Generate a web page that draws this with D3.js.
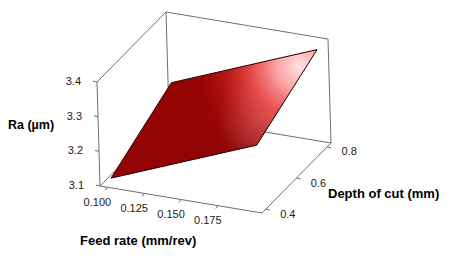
<!DOCTYPE html>
<html><head><meta charset="utf-8">
<script src="https://cdn.jsdelivr.net/npm/d3@7"></script>
<style>html,body{margin:0;padding:0;background:#fff;}svg{display:block;}</style>
</head><body>
<svg id="c" width="450" height="267"></svg>
<script>
// ---- data ----
const feedVals = [0.10, 0.15, 0.20];          // Feed rate (mm/rev)
const depthVals = [0.4, 0.6, 0.8];            // Depth of cut (mm)
const raVals = [                              // Ra (µm), rows = depth, cols = feed
  [3.115, 3.198, 3.281],
  [3.163, 3.246, 3.329],
  [3.211, 3.294, 3.377]
];
const feedTicks = [0.100, 0.125, 0.150, 0.175];
const depthTicks = [0.4, 0.6, 0.8];
const raTicks = [3.1, 3.2, 3.3, 3.4];
const feedDomain = [0.095, 0.205];
const depthDomain = [0.375, 0.825];
const raDomain = [3.1, 3.4];

// ---- projection ----
const svg = d3.select("#c");
const fx = d3.scaleLinear().domain(feedDomain).range([0, 1]);
const fy = d3.scaleLinear().domain(depthDomain).range([0, 1]);
const fz = d3.scaleLinear().domain(raDomain).range([0, 1]);
const O = [100, 186], F = [162, 27], D = [69, -70], Z = [-3, -104];
function P(a, b, c) { // unit coords
  return [O[0] + F[0]*a + D[0]*b + Z[0]*c, O[1] + F[1]*a + D[1]*b + Z[1]*c];
}
function proj(f, d, r) { return P(fx(f), fy(d), fz(r)); }
const line = d3.line();
const boxCol = "#6e6e6e";

// ---- box edges (drawn behind surface) ----
const edges = [
  [[0,0,0],[0,0,1]], [[0,0,1],[0,1,1]], [[0,1,1],[1,1,1]], [[1,1,1],[1,1,0]],
  [[0,1,0],[0,1,1]], [[0,1,0],[1,1,0]], [[0,0,0],[0,1,0]],
  [[0,0,0],[1,0,0]], [[1,0,0],[1,1,0]]
];
svg.append("g").selectAll("path").data(edges).join("path")
  .attr("d", e => line(e.map(p => P(...p))))
  .attr("fill", "none").attr("stroke", boxCol).attr("stroke-width", 1);

// ---- ticks ----
const tg = svg.append("g").attr("font-family", "'Liberation Sans', Arial, sans-serif")
  .attr("font-size", 11).attr("fill", "#1a1a1a");
raTicks.forEach(t => {
  const p = P(0, 0, fz(t));
  tg.append("line").attr("x1", p[0]).attr("y1", p[1]).attr("x2", p[0]-4).attr("y2", p[1]-1)
    .attr("stroke", boxCol);
  tg.append("text").attr("x", p[0]-16).attr("y", p[1]-1).attr("text-anchor", "end")
    .attr("dominant-baseline", "central").text(d3.format(".1f")(t));
});
feedTicks.forEach(t => {
  const p = P(fx(t), 0, 0);
  tg.append("line").attr("x1", p[0]).attr("y1", p[1]).attr("x2", p[0]-2).attr("y2", p[1]+3)
    .attr("stroke", boxCol);
  tg.append("text").attr("x", p[0]-10).attr("y", p[1]+14.5).attr("text-anchor", "middle")
    .attr("dominant-baseline", "central").text(d3.format(".3f")(t));
});
depthTicks.forEach(t => {
  const p = P(1, fy(t), 0);
  tg.append("line").attr("x1", p[0]).attr("y1", p[1]).attr("x2", p[0]+4).attr("y2", p[1]+1)
    .attr("stroke", boxCol);
  tg.append("text").attr("x", p[0]+22).attr("y", p[1]+4.5).attr("text-anchor", "middle")
    .attr("dominant-baseline", "central").text(d3.format(".1f")(t));
});

// ---- axis titles ----
const ttl = svg.append("g").attr("font-family", "'Liberation Sans', Arial, sans-serif")
  .attr("font-weight", "bold").attr("fill", "#000");
ttl.append("text").attr("x", 8).attr("y", 125).attr("font-size", 12.5)
  .attr("dominant-baseline", "central").text("Ra (µm)");
ttl.append("text").attr("x", 80).attr("y", 240).attr("font-size", 13)
  .attr("dominant-baseline", "central").text("Feed rate (mm/rev)");
ttl.append("text").attr("x", 328).attr("y", 193).attr("font-size", 13)
  .attr("dominant-baseline", "central").text("Depth of cut (mm)");

// ---- surface ----
const defs = svg.append("defs");
const rg = defs.append("radialGradient").attr("id", "hl").attr("gradientUnits", "userSpaceOnUse")
  .attr("cx", 298).attr("cy", 70).attr("r", 112).attr("fx", 300).attr("fy", 66);
[[0, "rgb(255,228,228)", 1], [0.2, "rgb(252,165,165)", 1], [0.42, "rgb(238,82,82)", 0.92],
 [0.68, "rgb(200,28,28)", 0.6], [1, "rgb(150,0,0)", 0]].forEach(s =>
  rg.append("stop").attr("offset", s[0]).attr("stop-color", s[1]).attr("stop-opacity", s[2]));
const gg = defs.append("radialGradient").attr("id", "gr").attr("gradientUnits", "userSpaceOnUse")
  .attr("cx", 268).attr("cy", 118).attr("r", 52);
[[0, "rgb(205,160,160)", 0.9], [0.5, "rgb(175,115,115)", 0.6], [1, "rgb(150,60,60)", 0]].forEach(s =>
  gg.append("stop").attr("offset", s[0]).attr("stop-color", s[1]).attr("stop-opacity", s[2]));

const nI = feedVals.length, nJ = depthVals.length;
const outline = [];
for (let i = 0; i < nI; i++) outline.push(proj(feedVals[i], depthVals[0], raVals[0][i]));
for (let j = 1; j < nJ; j++) outline.push(proj(feedVals[nI-1], depthVals[j], raVals[j][nI-1]));
for (let i = nI-2; i >= 0; i--) outline.push(proj(feedVals[i], depthVals[nJ-1], raVals[nJ-1][i]));
for (let j = nJ-2; j > 0; j--) outline.push(proj(feedVals[0], depthVals[j], raVals[j][0]));
const surfD = line(outline) + "Z";
svg.append("path").attr("d", surfD).attr("fill", "#930404");
svg.append("path").attr("d", surfD).attr("fill", "url(#gr)");
svg.append("path").attr("d", surfD).attr("fill", "url(#hl)");
svg.append("path").attr("d", surfD).attr("fill", "none").attr("stroke", "#2a0000").attr("stroke-width", 1);
</script>
</body></html>
